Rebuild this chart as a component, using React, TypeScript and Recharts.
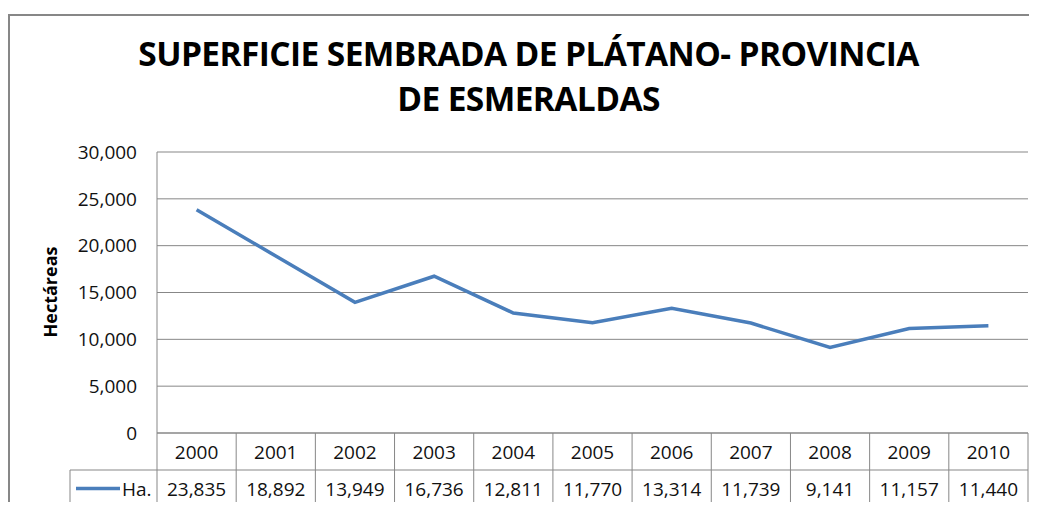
import { LineChart, Line, XAxis, YAxis, CartesianGrid } from 'recharts';

const years = ['2000', '2001', '2002', '2003', '2004', '2005', '2006', '2007', '2008', '2009', '2010'];
const hectares = [23835, 18892, 13949, 16736, 12811, 11770, 13314, 11739, 9141, 11157, 11440];
const yTicks = [0, 5000, 10000, 15000, 20000, 25000, 30000];
const seriesName = 'Ha.';

const data = years.map((year, i) => ({ year, ha: hectares[i] }));

const FONT = '"Open Sans", sans-serif';
const GRID = '#878787';
const BLUE = '#4A7EBB';
const ROW = 37;

const fmt = (v: number) => v.toLocaleString('en-US');

// x axis tick draws one column of the data table
function TableTick(props: any) {
  const { x, y, payload, width, visibleTicksCount, index } = props;
  const band = width / visibleTicksCount;
  const left = x - band / 2;
  const right = x + band / 2;
  const isFirst = index === 0;
  const isLast = index === visibleTicksCount - 1;
  return (
    <g>
      <line x1={left} x2={left} y1={y} y2={y + ROW * 2} stroke={GRID} />
      {isLast && <line x1={right} x2={right} y1={y} y2={y + ROW * 2} stroke={GRID} />}
      <line x1={left} x2={right} y1={y + ROW} y2={y + ROW} stroke={GRID} />
      <line x1={left} x2={right} y1={y + ROW * 2} y2={y + ROW * 2} stroke={GRID} />
      <text x={x} y={y + ROW / 2} textAnchor="middle" dominantBaseline="central" fontSize={19} fill="#111" fontFamily={FONT}>
        {payload.value}
      </text>
      <text x={x} y={y + ROW * 1.5} textAnchor="middle" dominantBaseline="central" fontSize={19} fill="#111" fontFamily={FONT}>
        {fmt(hectares[index])}
      </text>
      {isFirst && (
        <g>
          <line x1={left - 87} x2={left} y1={y + ROW} y2={y + ROW} stroke={GRID} />
          <line x1={left - 87} x2={left} y1={y + ROW * 2} y2={y + ROW * 2} stroke={GRID} />
          <line x1={left - 87} x2={left - 87} y1={y + ROW} y2={y + ROW * 2} stroke={GRID} />
          <line x1={left - 81} x2={left - 37} y1={y + ROW * 1.5} y2={y + ROW * 1.5} stroke={BLUE} strokeWidth={3.5} />
          <text x={left - 35} y={y + ROW * 1.5} dominantBaseline="central" fontSize={19} fill="#111" fontFamily={FONT}>
            {seriesName}
          </text>
        </g>
      )}
    </g>
  );
}

export default function App() {
  return (
    <div style={{ position: 'relative', width: 1037, height: 510, overflow: 'hidden', margin: -8, background: '#fff', fontFamily: FONT }}>
      <div
        style={{
          position: 'absolute',
          left: 8,
          top: 14,
          width: 1200,
          height: 700,
          borderLeft: `2px solid ${GRID}`,
          borderTop: `2px solid ${GRID}`,
        }}
      />
      <div
        style={{
          position: 'absolute',
          left: 0,
          top: 31,
          width: 1057,
          textAlign: 'center',
          fontWeight: 700,
          fontSize: 33.5,
          lineHeight: '45px',
          letterSpacing: -0.6,
          color: '#000',
        }}
      >
        SUPERFICIE SEMBRADA DE PLÁTANO- PROVINCIA
        <br />
        DE ESMERALDAS
      </div>
      <div
        style={{
          position: 'absolute',
          left: 50,
          top: 292,
          transform: 'translate(-50%, -50%) rotate(-90deg)',
          fontWeight: 700,
          fontSize: 18,
          color: '#000',
          whiteSpace: 'nowrap',
        }}
      >
        Hectáreas
      </div>
      <div style={{ position: 'absolute', left: 0, top: 0 }}>
        <LineChart width={1037} height={510} data={data} margin={{ top: 152, right: 9, bottom: 0, left: 0 }}>
          <CartesianGrid horizontal vertical={false} stroke={GRID} strokeOpacity={1} />
          <XAxis
            dataKey="year"
            scale="band"
            interval={0}
            height={77}
            tickSize={0}
            tickMargin={0}
            axisLine={{ stroke: GRID }}
            tickLine={false}
            tick={<TableTick />}
          />
          <YAxis
            width={157}
            domain={[0, 30000]}
            ticks={yTicks}
            tickFormatter={fmt}
            tickSize={0}
            tickMargin={20}
            tickLine={false}
            axisLine={{ stroke: GRID }}
            tick={{ fontSize: 19, fill: '#111', fontFamily: FONT }}
          />
          <Line
            type="linear"
            dataKey="ha"
            stroke={BLUE}
            strokeWidth={3.5}
            dot={false}
            isAnimationActive={false}
          />
        </LineChart>
      </div>
    </div>
  );
}
